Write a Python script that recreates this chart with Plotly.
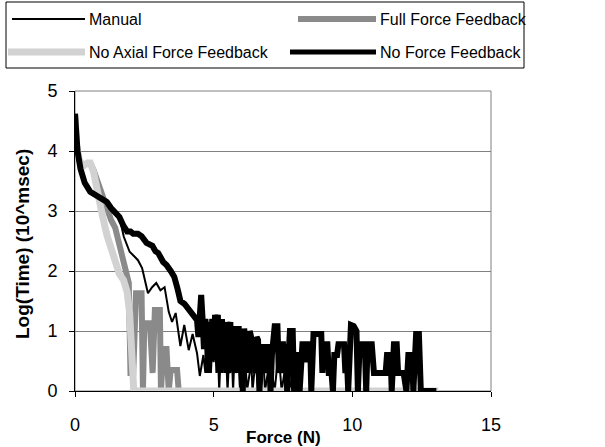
import plotly.graph_objects as go

# ---------------- data ----------------
manual_f = [0, 0.03, 0.09, 0.2, 0.35, 0.55, 0.7, 0.85, 1.0, 1.15, 1.3, 1.45, 1.6, 1.76,
            1.97, 2.17, 2.27, 2.42, 2.52, 2.63, 2.78, 2.93, 3.08, 3.23, 3.38, 3.5, 3.63,
            3.72, 3.8, 3.94, 4.1, 4.24, 4.4, 4.5, 4.63, 4.7, 4.75, 4.8, 4.85, 4.9, 4.95,
            5.0, 5.05, 5.1, 5.15, 5.2, 5.25, 5.3, 5.35, 5.4, 5.45, 5.5, 5.55, 5.6, 5.65,
            5.7, 5.75, 5.8, 5.9, 5.95, 6.0, 6.1, 6.15, 6.2, 6.3, 6.35, 6.4, 6.5, 6.55,
            6.6, 6.7, 6.8, 6.85, 6.95, 7.0, 7.1, 7.2, 7.3, 7.4, 7.45, 7.55, 7.6, 7.7,
            7.8, 7.9, 8.0, 8.2]
manual_l = [4.62, 4.3, 4.0, 3.7, 3.47, 3.32, 3.28, 3.25, 3.2, 3.15, 3.05, 2.97, 2.9, 2.57,
            2.32, 2.23, 2.18, 2.05, 1.85, 1.63, 1.73, 1.8, 1.68, 1.73, 1.32, 1.15, 1.3,
            1.0, 0.75, 1.1, 0.68, 0.95, 0.63, 0.25, 0.6, 0.3, 0.85, 0.48, 0.95, 0.3, 0.78,
            0.48, 0.85, 0.3, 0.7, 0.0, 0.6, 0.3, 0.78, 0.48, 0.6, 0.0, 0.48, 0.3, 0.7,
            0.0, 0.6, 0.3, 0.48, 0.0, 0.6, 0.3, 0.48, 0.0, 0.3, 0.6, 0.0, 0.48, 0.3,
            0.0, 0.3, 0.48, 0.0, 0.3, 0.0, 0.3, 0.0, 0.48, 0.3, 0.0, 0.3, 0.0, 0.3,
            0.0, 0.3, 0.0, 0.0]

full_f = [0, 0.05, 0.15, 0.3, 0.45, 0.55, 0.67, 0.8, 0.97, 1.15, 1.3, 1.45, 1.6, 1.76,
          1.88, 1.94, 2.0, 2.1, 2.2, 2.3, 2.4, 2.45, 2.5, 2.6, 2.7, 2.8, 2.88, 2.98,
          3.06, 3.1, 3.18, 3.3, 3.38, 3.45, 3.55, 3.68, 3.74]
full_l = [4.6, 4.15, 3.85, 3.75, 3.8, 3.8, 3.68, 3.5, 3.25, 3.0, 2.85, 2.72, 2.45, 2.2,
          2.0, 1.8, 0.3, 0.3, 1.63, 1.63, 1.63, 0.0, 1.13, 1.13, 1.13, 0.3, 1.35, 1.35,
          1.35, 0.0, 0.7, 0.7, 0.0, 0.35, 0.35, 0.35, 0.0]

noaxial_f = [0, 0.05, 0.15, 0.3, 0.45, 0.55, 0.67, 0.78, 0.9, 1.0, 1.15, 1.3, 1.45, 1.6,
             1.75, 1.88, 1.97, 2.05, 2.12, 13.1]
noaxial_l = [4.6, 4.1, 3.85, 3.75, 3.8, 3.8, 3.65, 3.35, 3.1, 2.9, 2.6, 2.35, 2.1, 1.95,
             1.85, 1.65, 1.3, 0.6, 0.0, 0.0]

noff_f = [0, 0.03, 0.09, 0.2, 0.35, 0.55, 0.7, 0.85, 1.0, 1.15, 1.3, 1.45, 1.6, 1.75,
          1.88, 2.0, 2.1, 2.27, 2.4, 2.58, 2.7, 2.79, 2.9, 3.0, 3.18, 3.3, 3.45, 3.58,
          3.7, 3.8, 3.95, 4.1, 4.25, 4.4, 4.45, 4.5, 4.55, 4.6, 4.65, 4.7, 4.75, 4.8,
          4.85, 4.9, 4.95, 5.0, 5.05, 5.1, 5.15, 5.2, 5.25, 5.3, 5.35, 5.4, 5.45, 5.5,
          5.55, 5.6, 5.65, 5.7, 5.75, 5.8, 5.85, 5.9, 5.95, 6.0, 6.05, 6.1, 6.15, 6.2,
          6.25, 6.3, 6.35, 6.4, 6.45, 6.5, 6.55, 6.6, 6.65, 6.7, 6.75, 6.8, 6.85, 6.9,
          6.95, 7.0, 7.05, 7.1, 7.2, 7.3, 7.35, 7.4, 7.5, 7.55, 7.6, 7.65, 7.7, 7.75,
          7.85, 7.9, 7.95, 8.05, 8.1, 8.15, 8.2, 8.3, 8.35, 8.4, 8.48, 8.52, 8.6, 8.7,
          8.8, 8.88, 8.92, 8.96, 9.1, 9.15, 9.25, 9.3, 9.35, 9.45, 9.5, 9.6, 9.7, 9.75,
          9.8, 9.85, 9.95, 10.05, 10.15, 10.2, 10.25, 10.35, 10.45, 10.5, 10.55, 10.7,
          10.78, 10.9, 11.0, 11.1, 11.2, 11.25, 11.38, 11.42, 11.5, 11.6, 11.65, 11.75,
          11.85, 11.95, 12.02, 12.15, 12.2, 12.3, 12.4, 12.47, 12.6, 13.03]
noff_l = [4.62, 4.3, 4.0, 3.7, 3.47, 3.32, 3.28, 3.25, 3.2, 3.15, 3.05, 2.97, 2.9, 2.75,
          2.66, 2.66, 2.62, 2.62, 2.58, 2.47, 2.45, 2.42, 2.33, 2.3, 2.15, 2.1, 2.0, 1.9,
          1.7, 1.5, 1.45, 1.35, 1.28, 1.18, 0.9, 1.3, 1.6, 1.2, 0.7, 1.2, 1.0, 0.3,
          1.15, 0.85, 1.2, 0.6, 1.27, 1.0, 1.27, 0.48, 1.1, 1.2, 0.6, 1.15, 0.3, 1.15,
          0.9, 1.15, 0.48, 1.08, 0.85, 1.08, 0.3, 1.08, 0.6, 1.04, 0.0, 1.04, 0.78, 1.0,
          0.3, 1.0, 0.9, 0.48, 0.78, 0.3, 0.9, 0.85, 0.0, 0.78, 0.78, 0.48, 0.78, 0.3,
          0.78, 0.78, 0.0, 0.6, 1.08, 1.08, 0.3, 0.78, 0.78, 0.3, 0.78, 0.0, 0.6, 1.0,
          1.0, 0.0, 0.6, 0.6, 0.0, 0.3, 0.78, 0.78, 0.48, 0.78, 0.78, 0.0, 0.95, 0.95,
          0.95, 0.95, 0.3, 0.78, 0.78, 0.3, 0.3, 0.0, 0.6, 0.6, 0.78, 0.78, 0.78, 0.3,
          0.6, 0.0, 1.1, 1.08, 1.0, 0.0, 0.6, 0.78, 0.78, 0.0, 0.78, 0.78,
          0.3, 0.3, 0.3, 0.3, 0.3, 0.6, 0.6, 0.0, 0.78, 0.78, 0.3, 0.3,
          0.3, 0.0, 0.6, 0.6, 0.0, 0.95, 0.95, 0.0, 0.0, 0.0]

x_ticks = [0, 5, 10, 15]
y_ticks = [0, 1, 2, 3, 4, 5]
series_names = ["Manual", "Full Force Feedback", "No Axial Force Feedback", "No Force Feedback"]

# ---------------- layout helpers ----------------
W, H = 605, 447
ML, MR, MT, MB = 75, 114, 91, 56
PW, PH = W - ML - MR, H - MT - MB
FONT = "Liberation Sans, Arial, sans-serif"


def px(x):
    return (x - ML) / PW


def py(y):
    return (H - MB - y) / PH


BLACK = "#000000"
GRAY = "#8a8a8a"
LIGHT = "#d2d2d2"

styles = {
    "Manual": dict(color=BLACK, width=2),
    "Full Force Feedback": dict(color=GRAY, width=6),
    "No Axial Force Feedback": dict(color=LIGHT, width=7),
    "No Force Feedback": dict(color=BLACK, width=6),
}

fig = go.Figure()
for name, fx, fy in [("Manual", manual_f, manual_l),
                     ("Full Force Feedback", full_f, full_l),
                     ("No Axial Force Feedback", noaxial_f, noaxial_l),
                     ("No Force Feedback", noff_f, noff_l)]:
    fig.add_trace(go.Scatter(x=fx, y=fy, mode="lines", name=name,
                             line=dict(**styles[name]), showlegend=False,
                             hoverinfo="skip"))

shapes = []
annotations = []
# plot-area frame (gray top/right)
shapes.append(dict(type="rect", xref="paper", yref="paper", x0=0, x1=1, y0=0, y1=1,
                   line=dict(color="#808080", width=1), layer="below"))
# legend box
shapes.append(dict(type="rect", xref="paper", yref="paper",
                   x0=px(6), x1=px(524), y0=py(68), y1=py(2),
                   line=dict(color=BLACK, width=1), fillcolor="white"))
legend_rows = [
    ("Manual", 12, 85, 19, 87),
    ("Full Force Feedback", 298, 376, 19, 378),
    ("No Axial Force Feedback", 8, 85, 52, 87),
    ("No Force Feedback", 290, 376, 52, 378),
]
for name, x0, x1, yy, tx in legend_rows:
    st = styles[name]
    w = 5 if name == "No Force Feedback" else st["width"]
    shapes.append(dict(type="line", xref="paper", yref="paper",
                       x0=px(x0), x1=px(x1), y0=py(yy), y1=py(yy),
                       line=dict(color=st["color"], width=w)))
    annotations.append(dict(text=name, xref="paper", yref="paper", x=px(tx), y=py(yy),
                            xanchor="left", yanchor="middle", showarrow=False,
                            font=dict(family=FONT, size=16, color=BLACK)))

annotations.append(dict(text="<b>Force (N)</b>", xref="paper", yref="paper",
                        x=px(283), y=py(437), xanchor="center", yanchor="middle",
                        showarrow=False, font=dict(family=FONT, size=17, color=BLACK)))
annotations.append(dict(text="<b>Log(Time) (10^msec)</b>", xref="paper", yref="paper",
                        x=px(22), y=py(244), xanchor="center", yanchor="middle",
                        textangle=-90, showarrow=False,
                        font=dict(family=FONT, size=19, color=BLACK)))

fig.update_layout(
    width=W, height=H, margin=dict(l=ML, r=MR, t=MT, b=MB, pad=0),
    paper_bgcolor="white", plot_bgcolor="white",
    shapes=shapes, annotations=annotations, showlegend=False,
    font=dict(family=FONT, size=18, color=BLACK),
)
fig.update_xaxes(range=[0, 15], tickvals=x_ticks, ticktext=[str(v) for v in x_ticks],
                 showgrid=False, zeroline=False, showline=True, linecolor=BLACK,
                 linewidth=1, ticks="outside", ticklen=5, tickcolor=BLACK,
                 ticklabelstandoff=12, tickfont=dict(family=FONT, size=18))
fig.update_yaxes(range=[0, 5], tickvals=y_ticks, ticktext=[str(v) for v in y_ticks],
                 showgrid=True, gridcolor="#808080", gridwidth=1, zeroline=False,
                 showline=True, linecolor=BLACK, linewidth=1, ticks="outside",
                 ticklen=5, tickcolor=BLACK, ticklabelstandoff=8,
                 tickfont=dict(family=FONT, size=18))

fig.write_html("out.html")
